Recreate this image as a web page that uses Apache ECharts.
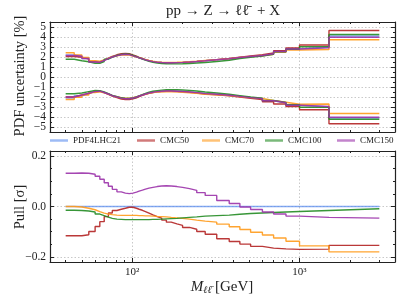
<!DOCTYPE html>
<html><head><meta charset="utf-8">
<script src="https://cdn.jsdelivr.net/npm/echarts@6/dist/echarts.min.js"></script>
<style>html,body{margin:0;padding:0;background:#fff}#c{width:399px;height:299px}</style>
</head><body><div id="c"></div>
<script>
// ---------------- data ----------------
const binEdges = [40,45,50,55,60,64,68,72,76,81,86,91,96,101,106,110,115,120,126,133,141,150,160,171,185,200,220,243,273,320,380,440,510,600,700,830,1000,1500,3000];
const seriesNames = ['PDF4LHC21','CMC50','CMC70','CMC100','CMC150'];
const seriesColors = ['#5b8def','#b22222','#ff9a1a','#228b22','#9b32aa'];

const upper_PDF4LHC21 = [2.2,2.1,1.85,1.55,1.52,1.68,1.85,2.02,2.15,2.24,2.28,2.25,2.13,2.02,1.92,1.82,1.72,1.62,1.54,1.48,1.45,1.43,1.43,1.44,1.46,1.5,1.55,1.62,1.72,1.82,1.95,2.05,2.15,2.32,2.55,2.8,3.0,4.1];
const upper_CMC50 = [2.05,1.98,1.78,1.52,1.5,1.68,1.88,2.07,2.22,2.32,2.36,2.33,2.2,2.08,1.96,1.85,1.74,1.63,1.55,1.48,1.45,1.43,1.43,1.44,1.46,1.5,1.56,1.64,1.74,1.85,1.98,2.1,2.22,2.4,2.62,2.9,3.2,4.65];
const upper_CMC70 = [2.42,2.2,1.95,1.62,1.58,1.72,1.87,2.02,2.12,2.2,2.23,2.2,2.1,2.0,1.92,1.83,1.74,1.65,1.57,1.51,1.48,1.46,1.46,1.47,1.49,1.53,1.58,1.65,1.74,1.83,1.95,2.04,2.12,2.27,2.48,2.7,2.75,3.72];
const upper_CMC100 = [1.78,1.62,1.52,1.36,1.36,1.55,1.78,1.98,2.15,2.26,2.3,2.28,2.16,2.04,1.92,1.8,1.68,1.57,1.47,1.4,1.35,1.32,1.31,1.31,1.32,1.35,1.4,1.45,1.55,1.68,1.85,1.98,2.1,2.28,2.52,2.78,3.02,4.25];
const upper_CMC150 = [2.15,2.08,1.85,1.5,1.48,1.65,1.83,2.0,2.14,2.23,2.27,2.24,2.12,2.01,1.91,1.81,1.71,1.62,1.54,1.48,1.45,1.43,1.43,1.44,1.46,1.5,1.55,1.62,1.72,1.82,1.95,2.05,2.15,2.32,2.55,2.8,2.92,3.98];

const lower_PDF4LHC21 = [-2.1,-1.88,-1.7,-1.48,-1.42,-1.55,-1.7,-1.87,-1.98,-2.1,-2.16,-2.16,-2.1,-2.02,-1.9,-1.8,-1.7,-1.6,-1.52,-1.46,-1.42,-1.4,-1.4,-1.42,-1.45,-1.5,-1.55,-1.65,-1.72,-1.8,-1.92,-2.05,-2.15,-2.38,-2.58,-2.8,-3.0,-4.1];
const lower_CMC50 = [-2.0,-1.8,-1.65,-1.47,-1.42,-1.56,-1.74,-1.92,-2.06,-2.2,-2.26,-2.26,-2.19,-2.08,-1.95,-1.84,-1.73,-1.63,-1.55,-1.49,-1.45,-1.43,-1.43,-1.45,-1.48,-1.53,-1.6,-1.7,-1.78,-1.88,-2.0,-2.14,-2.25,-2.48,-2.7,-2.95,-3.28,-4.68];
const lower_CMC70 = [-2.25,-2.02,-1.8,-1.55,-1.47,-1.57,-1.7,-1.86,-1.97,-2.07,-2.12,-2.12,-2.06,-1.98,-1.88,-1.78,-1.7,-1.62,-1.55,-1.5,-1.47,-1.46,-1.47,-1.49,-1.52,-1.57,-1.62,-1.72,-1.78,-1.85,-1.95,-2.05,-2.15,-2.35,-2.52,-2.72,-2.7,-3.65];
const lower_CMC100 = [-1.68,-1.6,-1.46,-1.35,-1.36,-1.5,-1.66,-1.84,-1.96,-2.08,-2.14,-2.15,-2.1,-2.0,-1.88,-1.76,-1.64,-1.52,-1.43,-1.36,-1.31,-1.28,-1.27,-1.27,-1.3,-1.34,-1.4,-1.5,-1.6,-1.72,-1.86,-2.0,-2.12,-2.35,-2.55,-2.78,-3.02,-4.22];
const lower_CMC150 = [-2.0,-1.8,-1.62,-1.46,-1.42,-1.55,-1.7,-1.87,-1.99,-2.11,-2.17,-2.17,-2.1,-2.02,-1.9,-1.8,-1.7,-1.6,-1.52,-1.46,-1.42,-1.4,-1.4,-1.42,-1.45,-1.5,-1.56,-1.66,-1.73,-1.82,-1.94,-2.06,-2.16,-2.38,-2.58,-2.82,-2.95,-4.02];

const pull_PDF4LHC21 = [0,0,0,0,0,0,0,0,0,0,0,0,0,0,0,0,0,0,0,0,0,0,0,0,0,0,0,0,0,0,0,0,0,0,0,0,0,0];
const pull_CMC50 = [-0.116,-0.116,-0.112,-0.099,-0.079,-0.060,-0.040,-0.026,-0.016,-0.011,-0.007,-0.003,-0.003,-0.007,-0.011,-0.015,-0.020,-0.026,-0.033,-0.040,-0.046,-0.054,-0.062,-0.069,-0.075,-0.083,-0.090,-0.099,-0.110,-0.128,-0.139,-0.149,-0.158,-0.165,-0.168,-0.170,-0.169,-0.154];
const pull_CMC70 = [0.000,-0.002,-0.007,-0.013,-0.020,-0.026,-0.030,-0.032,-0.034,-0.035,-0.035,-0.035,-0.035,-0.035,-0.036,-0.036,-0.037,-0.037,-0.038,-0.039,-0.040,-0.041,-0.043,-0.045,-0.047,-0.050,-0.054,-0.058,-0.062,-0.070,-0.080,-0.091,-0.102,-0.113,-0.125,-0.138,-0.156,-0.180];
const pull_CMC100 = [-0.015,-0.016,-0.018,-0.022,-0.030,-0.036,-0.042,-0.047,-0.050,-0.051,-0.052,-0.052,-0.052,-0.052,-0.052,-0.052,-0.052,-0.052,-0.051,-0.051,-0.050,-0.049,-0.048,-0.047,-0.045,-0.043,-0.041,-0.038,-0.036,-0.034,-0.031,-0.028,-0.026,-0.024,-0.022,-0.020,-0.016,-0.009];
const pull_CMC150 = [0.132,0.133,0.132,0.128,0.120,0.108,0.094,0.080,0.068,0.058,0.053,0.051,0.053,0.057,0.061,0.065,0.069,0.073,0.076,0.079,0.081,0.082,0.081,0.079,0.076,0.071,0.064,0.055,0.044,0.024,0.012,-0.002,-0.012,-0.022,-0.030,-0.038,-0.043,-0.046];

const xMajorTicks = [100,1000];
const xMinorTicks = [40,50,60,70,80,90,200,300,400,500,600,700,800,900,2000,3000];
const topMajorTicks = [-5,-4,-3,-2,-1,0,1,2,3,4,5];
const topLabelsOdd = [-5,-3,-1,1,3,5];
const topLabelsEven = [-4,-2,0,2,4];
const topMinorTicks = [-4.5,-3.5,-2.5,-1.5,-0.5,0.5,1.5,2.5,3.5,4.5];
const botMajorTicks = [-0.2,0,0.2];
const botMinorTicks = [-0.15,-0.1,-0.05,0.05,0.1,0.15];

const uppers = [upper_PDF4LHC21,upper_CMC50,upper_CMC70,upper_CMC100,upper_CMC150];
const lowers = [lower_PDF4LHC21,lower_CMC50,lower_CMC70,lower_CMC100,lower_CMC150];
const pulls = [pull_PDF4LHC21,pull_CMC50,pull_CMC70,pull_CMC100,pull_CMC150];

// ---------------- chart ----------------
const FONT = 'Liberation Serif';
const X_MIN = 32.24, X_MAX = 3722;
function stepData(vals){ return binEdges.map((e,i)=>[e, vals[Math.min(i, vals.length-1)]]); }
const frame = {show:true, onZero:false, lineStyle:{color:'#222', width:1.2}};
const noLine = {show:false, onZero:false};
const grid = {show:true, lineStyle:{color:'#bbb', width:0.8, type:[1.5,2]}};
const tickCol = {color:'#222'};

function xAxes(gi, withLabels){
  const base = {type:'log', logBase:10, gridIndex:gi, min:X_MIN, max:X_MAX};
  return [
    Object.assign({}, base, {position:'bottom', axisLine:frame,
      axisTick:{show:true, inside:true, length:4, customValues:xMajorTicks, lineStyle:tickCol},
      axisLabel:{show:withLabels, customValues:xMajorTicks, fontFamily:FONT, fontSize:11, color:'#222', margin:5,
        hideOverlap:false, formatter:v=> v<500 ? '10²' : '10³'},
      splitLine:grid}),
    Object.assign({}, base, {position:'bottom', axisLine:noLine,
      axisTick:{show:true, inside:true, length:2, customValues:xMinorTicks, lineStyle:tickCol},
      axisLabel:{show:false}, splitLine:{show:false}}),
    Object.assign({}, base, {position:'top', axisLine:frame,
      axisTick:{show:true, inside:true, length:4, customValues:xMajorTicks, lineStyle:tickCol},
      axisLabel:{show:false}, splitLine:{show:false}}),
    Object.assign({}, base, {position:'top', axisLine:noLine,
      axisTick:{show:true, inside:true, length:2, customValues:xMinorTicks, lineStyle:tickCol},
      axisLabel:{show:false}, splitLine:{show:false}})
  ];
}
function labelAxis(gi, mn, mx, vals, fmt){
  return {type:'value', gridIndex:gi, min:mn, max:mx, position:'left', axisLine:noLine, axisTick:{show:false},
    axisLabel:{show:true, customValues:vals, fontFamily:FONT, fontSize:11.5, color:'#222', margin:4,
      hideOverlap:false, showMinLabel:true, showMaxLabel:true, formatter:fmt},
    splitLine:{show:false}};
}
function yAxes(gi, mn, mx, major, minor, labelSets, fmt){
  const base = {type:'value', gridIndex:gi, min:mn, max:mx};
  return [
    Object.assign({}, base, {position:'left', axisLine:frame,
      axisTick:{show:true, inside:true, length:4, customValues:major, lineStyle:tickCol},
      axisLabel:{show:false}, splitLine:grid}),
    Object.assign({}, base, {position:'left', axisLine:noLine,
      axisTick:{show:true, inside:true, length:2, customValues:minor, lineStyle:tickCol},
      axisLabel:{show:false}, splitLine:{show:false}}),
    Object.assign({}, base, {position:'right', axisLine:frame,
      axisTick:{show:true, inside:true, length:4, customValues:major, lineStyle:tickCol},
      axisLabel:{show:false}, splitLine:{show:false}}),
    Object.assign({}, base, {position:'right', axisLine:noLine,
      axisTick:{show:true, inside:true, length:2, customValues:minor, lineStyle:tickCol},
      axisLabel:{show:false}, splitLine:{show:false}}),
    ...labelSets.map(s=>labelAxis(gi, mn, mx, s, fmt))
  ];
}
const fmtTop = v => v<0 ? '−'+Math.abs(v) : String(v);
const fmtBot = v => (v<0 ? '−' : '') + Math.abs(v).toFixed(1);

const topY = yAxes(0,-5.5,5.5,topMajorTicks,topMinorTicks,[topLabelsOdd,topLabelsEven],fmtTop);
const botY = yAxes(1,-0.22,0.22,botMajorTicks,botMinorTicks,[botMajorTicks],fmtBot);
const BOT_Y = topY.length;

const series = [];
seriesNames.forEach((name, k)=>{
  const ls = {color:seriesColors[k], width:1.4, opacity: k===0 ? 0.75 : 0.9};
  const common = {name, type:'line', step:'end', showSymbol:false, symbol:'none', itemStyle:{color:seriesColors[k]},
    lineStyle:ls, silent:true, animation:false, z:2+k};
  series.push(Object.assign({}, common, {xAxisIndex:0, yAxisIndex:0, data:stepData(uppers[k])}));
  series.push(Object.assign({}, common, {xAxisIndex:0, yAxisIndex:0, data:stepData(lowers[k])}));
  series.push(Object.assign({}, common, {xAxisIndex:4, yAxisIndex:BOT_Y, data:stepData(pulls[k])}));
});

const legendLeft = [50,137,202,265,337];
const legends = seriesNames.map((name,k)=>({
  data:[name], left:legendLeft[k], top:136, icon:'rect', itemWidth:18, itemHeight:2.5, padding:0,
  itemStyle:{opacity:0.6}, textStyle:{fontFamily:FONT, fontSize:9, color:'#222'}, selectedMode:false
}));

const option = {
  animation:false,
  backgroundColor:'#fff',
  grid:[
    {left:50, top:22, width:345, height:110, show:false},
    {left:50, top:151, width:345, height:111, show:false}
  ],
  xAxis: [...xAxes(0,false), ...xAxes(1,true)],
  yAxis: [...topY, ...botY],
  legend: legends,
  series,
  graphic:[
    {type:'text', x:223, y:11, style:{text:'pp → Z → ℓℓ̄  + X', font:'15px "'+FONT+'"', fill:'#222', textAlign:'center', textVerticalAlign:'middle'}},
    {type:'text', x:20, y:76, rotation:Math.PI/2, style:{text:'PDF uncertainty [%]', font:'14.5px "'+FONT+'"', fill:'#222', textAlign:'center', textVerticalAlign:'middle'}},
    {type:'text', x:20, y:207, rotation:Math.PI/2, style:{text:'Pull [σ]', font:'14.5px "'+FONT+'"', fill:'#222', textAlign:'center', textVerticalAlign:'middle'}},
    {type:'text', x:222, y:287, style:{
      text:'{m|M}{s|ℓℓ̄} {n|[GeV]}', textAlign:'center', textVerticalAlign:'middle',
      rich:{m:{font:'italic 15px "'+FONT+'"', fill:'#222'}, s:{font:'italic 10px "'+FONT+'"', fill:'#222', padding:[6,0,0,0]}, n:{font:'15px "'+FONT+'"', fill:'#222'}}}}
  ]
};
const chart = echarts.init(document.getElementById('c'), null, {renderer:'canvas'});
chart.setOption(option);
</script></body></html>
